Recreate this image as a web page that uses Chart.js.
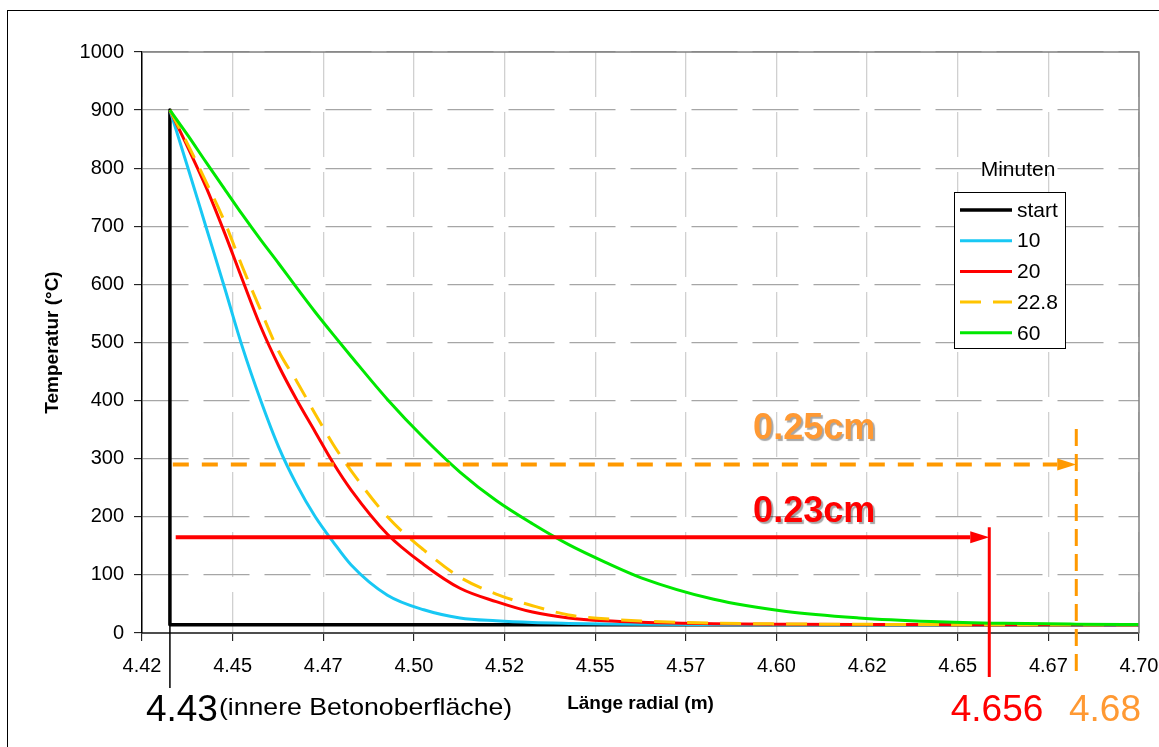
<!DOCTYPE html>
<html>
<head>
<meta charset="utf-8">
<title>Temperaturverlauf radial</title>
<script src="https://cdn.jsdelivr.net/npm/chart.js@4.4.0/dist/chart.umd.min.js"></script>
<style>
    html, body { margin: 0; padding: 0; background: #ffffff; }
    #wrap { width: 1159px; height: 747px; }
</style>
</head>
<body>
<div id="wrap"><canvas id="tempChart" width="1159" height="747"></canvas></div>
<script>
// Radiale Position (m) der Stützstellen
const xRadial = [4.43, 4.435, 4.44, 4.445, 4.45, 4.455, 4.46, 4.465, 4.47, 4.475, 4.48,
                 4.49, 4.50, 4.51, 4.52, 4.53, 4.54, 4.55, 4.56, 4.58, 4.60, 4.62, 4.64, 4.66, 4.68, 4.70];

// Temperatur (°C) nach x Minuten
const t10  = [900, 800, 698, 596, 492, 401, 320, 255, 201, 157, 117,
              65, 40, 26, 21, 18, 16.5, 15.5, 15, 14.5, 14, 14, 14, 14, 14, 14];
const t20  = [900, 835, 767, 690, 608, 528, 460, 401, 347, 293, 246,
              170, 118, 77, 54, 36, 26, 21, 18.5, 16, 15, 14.5, 14.5, 14, 14, 14];
const t228 = [900, 840, 776, 709, 630, 556, 485, 433, 378, 325, 279,
              200, 143, 96, 67, 47, 31, 24.5, 20.5, 17, 15.5, 15, 14.5, 14, 14, 14];
const t60  = [900, 856, 810, 765, 720, 677, 636, 594, 553, 514, 476,
              402, 336, 277, 228, 188, 152, 122, 95, 58, 37, 26, 19.8, 16.6, 15.2, 14.5];

// Anfangszustand: Sprung an der inneren Betonoberfläche
const startX = [4.43, 4.43, 4.70];
const startY = [900, 14, 14];

// Achsen
const xTickLabels = ['4.42', '4.45', '4.47', '4.50', '4.52', '4.55', '4.57', '4.60', '4.62', '4.65', '4.67', '4.70'];
const X_MIN = 4.4223;
const X_STEP = 0.025;
const X_MAX = X_MIN + (xTickLabels.length - 1) * X_STEP;

// Eindringtiefen (m) und Pfeilhöhen (°C)
const innerSurface = 4.43;
const depth20 = 4.656;
const depth228 = 4.68;
const arrow20 = { y: 165, from: 4.4316, top: 182 };
const arrow228 = { y: 290, from: 4.4308, top: 351 };

const FONT = "'Liberation Sans', Arial, Helvetica, sans-serif";
Chart.defaults.font.family = FONT;
Chart.defaults.color = '#000000';

function toPoints(xs, ys) {
    return xs.map((x, i) => ({ x: x, y: ys[i] }));
}

const series = [
    { label: 'start', xs: startX, ys: startY, color: '#000000', width: 3.5, dash: [], smooth: false },
    { label: '10', xs: xRadial, ys: t10, color: '#18C8F4', width: 3, dash: [], smooth: true },
    { label: '20', xs: xRadial, ys: t20, color: '#FF0000', width: 3, dash: [], smooth: true },
    { label: '22.8', xs: xRadial, ys: t228, color: '#FFC400', width: 3, dash: [21, 12], smooth: true },
    { label: '60', xs: xRadial, ys: t60, color: '#00E800', width: 3, dash: [], smooth: true }
];

const datasets = series.map((s, i) => ({
    label: s.label,
    data: toPoints(s.xs, s.ys),
    showLine: true,
    borderColor: s.color,
    backgroundColor: s.color,
    borderWidth: s.width,
    borderDash: s.dash,
    borderCapStyle: 'butt',
    borderJoinStyle: 'round',
    pointRadius: 0,
    fill: false,
    tension: 0,
    cubicInterpolationMode: s.smooth ? 'monotone' : 'default',
    order: series.length - i // later series on top
}));

function textAt(ctx, text, x, y, font, color, align, stretch, shadow) {
    ctx.save();
    ctx.font = font;
    ctx.fillStyle = color;
    ctx.textAlign = align || 'left';
    ctx.textBaseline = 'alphabetic';
    ctx.translate(x, y);
    ctx.scale(stretch || 1, 1);
    if (shadow) {
        ctx.shadowColor = 'rgba(0,0,0,0.35)';
        ctx.shadowOffsetX = 2;
        ctx.shadowOffsetY = 2;
        ctx.shadowBlur = 1;
    }
    ctx.fillText(text, 0, 0);
    ctx.restore();
}

function arrowRight(ctx, x1, x2, y, color, width, dash) {
    const head = 19, half = 6;
    ctx.save();
    ctx.strokeStyle = color;
    ctx.lineWidth = width;
    ctx.setLineDash(dash);
    ctx.beginPath();
    ctx.moveTo(x1, y);
    ctx.lineTo(x2 - head, y);
    ctx.stroke();
    ctx.setLineDash([]);
    ctx.fillStyle = color;
    ctx.beginPath();
    ctx.moveTo(x2, y);
    ctx.lineTo(x2 - head, y - half);
    ctx.lineTo(x2 - head, y + half);
    ctx.closePath();
    ctx.fill();
    ctx.restore();
}

function vline(ctx, x, y1, y2, color, width, dash) {
    ctx.save();
    ctx.strokeStyle = color;
    ctx.lineWidth = width;
    ctx.setLineDash(dash || []);
    ctx.beginPath();
    ctx.moveTo(x, y1);
    ctx.lineTo(x, y2);
    ctx.stroke();
    ctx.restore();
}

const decorations = {
    id: 'decorations',
    beforeDraw(chart) {
        const ctx = chart.ctx;
        ctx.save();
        ctx.fillStyle = '#ffffff';
        ctx.fillRect(0, 0, chart.width, chart.height);
        // äußerer Rahmen
        ctx.strokeStyle = '#000000';
        ctx.lineWidth = 1;
        ctx.strokeRect(7.5, 10.5, chart.width + 20, chart.height + 20);
        ctx.restore();
    },
    afterDatasetsDraw(chart) {
        const ctx = chart.ctx;
        const xs = chart.scales.x, ys = chart.scales.y;
        const a = chart.chartArea;

        // Rahmen der Zeichenfläche oben und rechts
        ctx.save();
        ctx.strokeStyle = '#808080';
        ctx.lineWidth = 1.5;
        ctx.beginPath();
        ctx.moveTo(a.left, a.top);
        ctx.lineTo(a.right, a.top);
        ctx.lineTo(a.right, a.bottom);
        ctx.stroke();
        ctx.restore();

        // Eindringpfeile
        arrowRight(ctx, xs.getPixelForValue(arrow228.from), xs.getPixelForValue(depth228),
                   ys.getPixelForValue(arrow228.y), '#FF9900', 4, [16, 13]);
        arrowRight(ctx, xs.getPixelForValue(arrow20.from), xs.getPixelForValue(depth20),
                   ys.getPixelForValue(arrow20.y), '#FF0000', 4, []);

        textAt(ctx, '0.25cm', xs.getPixelForValue(4.6077), ys.getPixelForValue(334),
               'bold 36px ' + FONT, '#FF9933', 'center', 1, true);
        textAt(ctx, '0.23cm', xs.getPixelForValue(4.6077), ys.getPixelForValue(191),
               'bold 36px ' + FONT, '#FF0000', 'center', 1, true);

        // Legende
        const lx = 954, ly = 192, lw = 111, lh = 156;
        ctx.save();
        ctx.fillStyle = '#ffffff';
        ctx.fillRect(lx, ly, lw, lh);
        ctx.strokeStyle = '#000000';
        ctx.lineWidth = 1;
        ctx.strokeRect(lx + 0.5, ly + 0.5, lw, lh);
        ctx.font = '21px ' + FONT;
        ctx.fillStyle = '#000000';
        ctx.textAlign = 'center';
        ctx.textBaseline = 'middle';
        ctx.fillText('Minuten', 1018, 170);
        ctx.textAlign = 'left';
        chart.data.datasets.forEach((ds, i) => {
            const y = 210 + i * 30.7;
            ctx.strokeStyle = ds.borderColor;
            ctx.lineWidth = ds.borderWidth;
            ctx.setLineDash(ds.borderDash || []);
            ctx.beginPath();
            ctx.moveTo(960, y);
            ctx.lineTo(1012, y);
            ctx.stroke();
            ctx.setLineDash([]);
            ctx.fillText(ds.label, 1017, y + 1);
        });
        ctx.restore();
    },
    afterDraw(chart) {
        const ctx = chart.ctx;
        const xs = chart.scales.x, ys = chart.scales.y;
        const a = chart.chartArea;

        // Markierungen bis unter die Achse
        vline(ctx, xs.getPixelForValue(innerSurface), ys.getPixelForValue(14), a.bottom + 55, '#000000', 1.5);
        vline(ctx, xs.getPixelForValue(depth20), ys.getPixelForValue(arrow20.top), a.bottom + 44, '#FF0000', 3);
        vline(ctx, xs.getPixelForValue(depth228), ys.getPixelForValue(arrow228.top), a.bottom + 44, '#FF9900', 3, [17, 8]);

        // Beschriftungen unter der Achse
        const base = a.bottom + 88;
        const x0 = xs.getPixelForValue(innerSurface) - 24;
        ctx.save();
        ctx.font = '37px ' + FONT;
        const w443 = ctx.measureText('4.43').width;
        ctx.restore();
        textAt(ctx, '4.43', x0, base, '37px ' + FONT, '#000000', 'left', 1);
        textAt(ctx, '(innere Betonoberfläche)', x0 + w443 + 1, base - 6, '24px ' + FONT, '#000000', 'left', 1.11);
        textAt(ctx, '4.656', 997, base, '37px ' + FONT, '#FF0000', 'center', 1);
        textAt(ctx, '4.68', 1105, base, '37px ' + FONT, '#FF9933', 'center', 1);
    }
};

new Chart(document.getElementById('tempChart').getContext('2d'), {
    type: 'scatter',
    data: { datasets: datasets },
    options: {
        responsive: false,
        animation: false,
        layout: { padding: { top: 52, right: 20, bottom: 0, left: 0 } },
        plugins: {
            legend: { display: false },
            tooltip: { enabled: false }
        },
        scales: {
            x: {
                type: 'linear',
                min: X_MIN,
                max: X_MAX,
                afterBuildTicks: (axis) => {
                    axis.ticks = xTickLabels.map((_, i) => ({ value: X_MIN + i * X_STEP }));
                },
                afterFit: (axis) => {
                    axis.height = 114;
                    axis.paddingLeft = 0;
                    axis.paddingRight = 0;
                },
                ticks: {
                    autoSkip: false,
                    maxRotation: 0,
                    padding: 13,
                    color: '#000000',
                    font: { size: 20 },
                    callback: (value, index) => xTickLabels[index]
                },
                grid: {
                    color: '#d0d0d0',
                    lineWidth: 1.3,
                    tickColor: '#000000',
                    tickLength: 8,
                    tickWidth: 1
                },
                border: { color: '#4d4d4d', width: 2, dash: [45, 15] },
                title: {
                    display: true,
                    text: 'Länge radial (m)',
                    color: '#000000',
                    font: { size: 19, weight: 'bold' },
                    padding: { top: 0, bottom: 32 }
                }
            },
            y: {
                min: 0,
                max: 1000,
                afterFit: (axis) => {
                    axis.width = 142;
                    axis.paddingTop = 0;
                    axis.paddingBottom = 0;
                },
                ticks: {
                    stepSize: 100,
                    padding: 10,
                    color: '#000000',
                    font: { size: 20 },
                    callback: (value) => String(value)
                },
                grid: {
                    color: '#a6a6a6',
                    lineWidth: 1.3,
                    tickColor: '#000000',
                    tickLength: 8,
                    tickWidth: 1
                },
                border: { color: '#000000', width: 1.5, dash: [46, 15] },
                title: {
                    display: true,
                    text: 'Temperatur (°C)',
                    color: '#000000',
                    font: { size: 19, weight: 'bold' },
                    padding: { top: 41, bottom: 0 }
                }
            }
        }
    },
    plugins: [decorations]
});
</script>
</body>
</html>
